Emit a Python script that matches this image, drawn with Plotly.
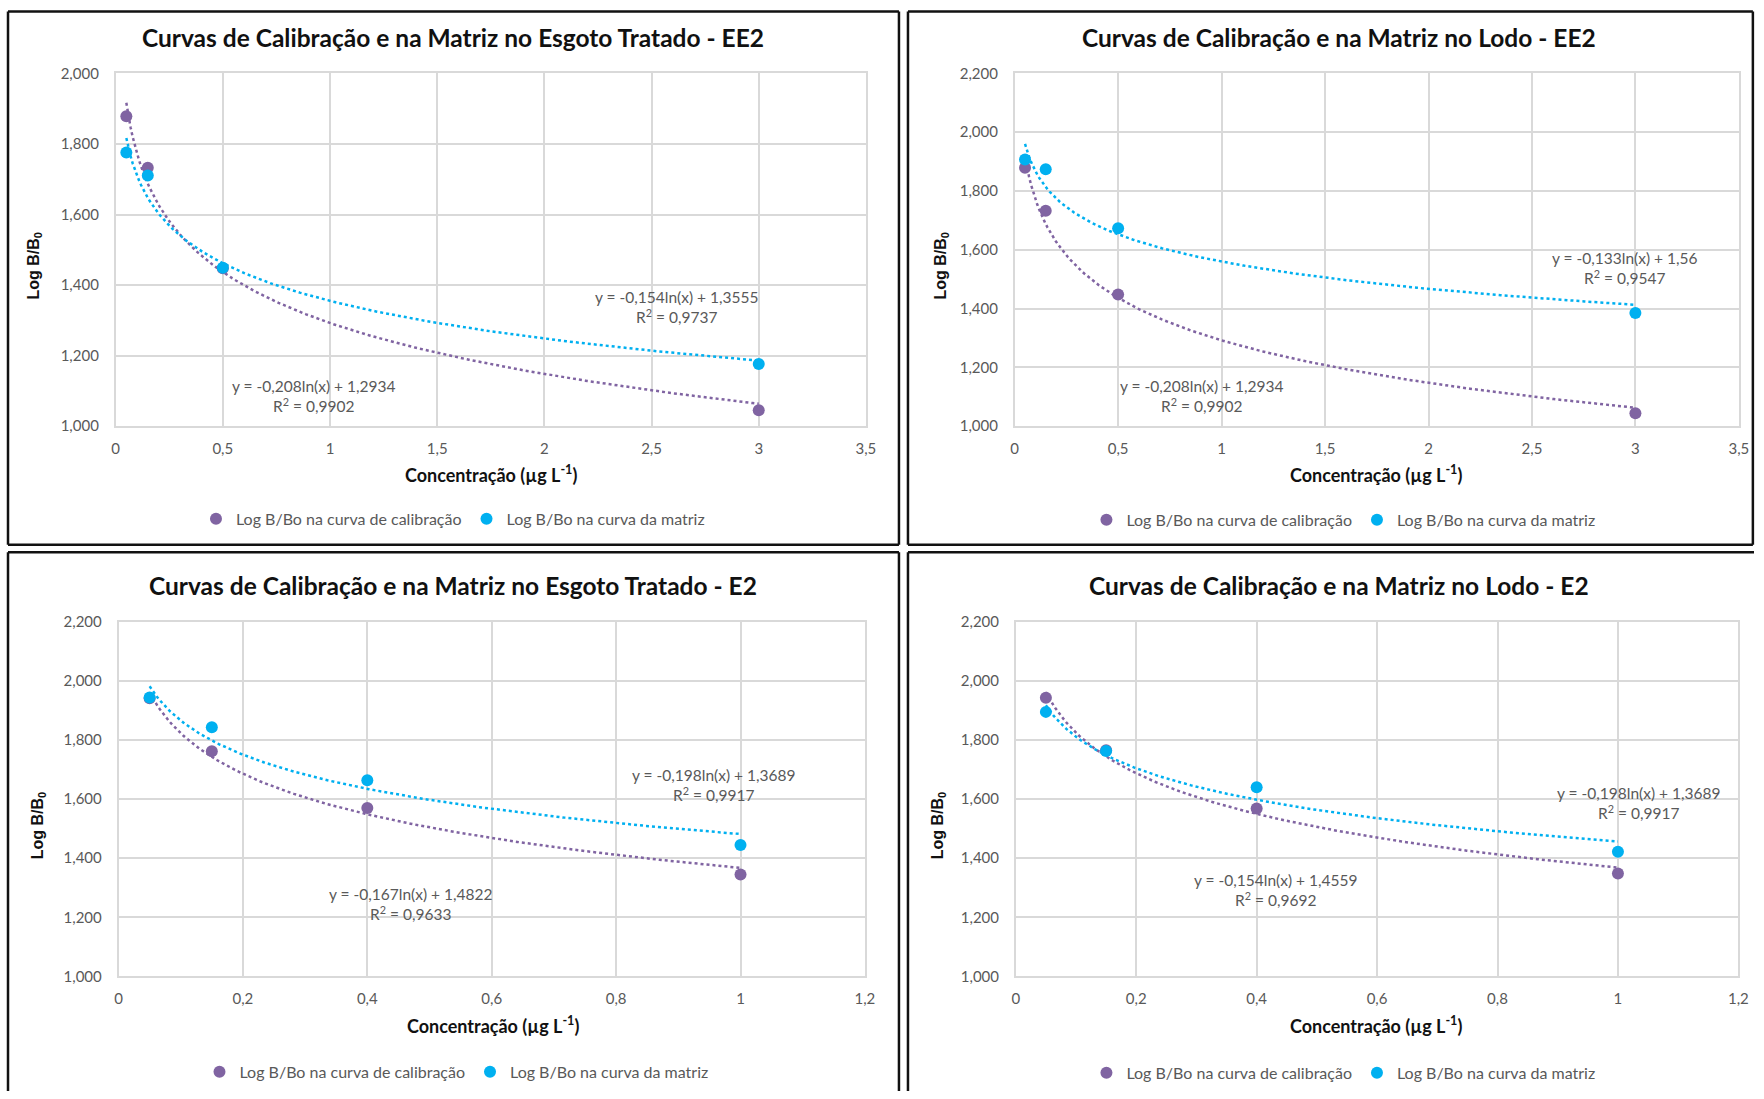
import numpy as np
import plotly.graph_objects as go

W, H = 1764, 1099

# ---------------- data ----------------
x_ee2 = [0.05, 0.15, 0.5, 3]
x_e2 = [0.05, 0.15, 0.4, 1]

ee2_esgoto_calib = [1.879, 1.733, 1.448, 1.045]
ee2_esgoto_matriz = [1.776, 1.711, 1.449, 1.176]
ee2_lodo_calib = [1.879, 1.733, 1.448, 1.044]
ee2_lodo_matriz = [1.907, 1.874, 1.673, 1.385]
e2_esgoto_calib = [1.941, 1.762, 1.570, 1.345]
e2_esgoto_matriz = [1.944, 1.843, 1.664, 1.445]
e2_lodo_calib = [1.943, 1.765, 1.568, 1.348]
e2_lodo_matriz = [1.895, 1.763, 1.640, 1.422]

titles = [
    "Curvas de Calibração e na Matriz no Esgoto Tratado - EE2",
    "Curvas de Calibração e na Matriz no Lodo - EE2",
    "Curvas de Calibração e na Matriz no Esgoto Tratado - E2",
    "Curvas de Calibração e na Matriz no Lodo - E2",
]
series_names = ["Log B/Bo na curva de calibração", "Log B/Bo na curva da matriz"]
eq_labels = [
    ["y = -0,208ln(x) + 1,2934<br>R<sup>2</sup> = 0,9902", "y = -0,154ln(x) + 1,3555<br>R<sup>2</sup> = 0,9737"],
    ["y = -0,208ln(x) + 1,2934<br>R<sup>2</sup> = 0,9902", "y = -0,133ln(x) + 1,56<br>R<sup>2</sup> = 0,9547"],
    ["y = -0,167ln(x) + 1,4822<br>R<sup>2</sup> = 0,9633", "y = -0,198ln(x) + 1,3689<br>R<sup>2</sup> = 0,9917"],
    ["y = -0,154ln(x) + 1,4559<br>R<sup>2</sup> = 0,9692", "y = -0,198ln(x) + 1,3689<br>R<sup>2</sup> = 0,9917"],
]
x_title = "Concentração (µg L<sup>-1</sup>)"
y_title = "Log B/B<sub>0</sub>"

panels = [
    dict(x=x_ee2, calib=ee2_esgoto_calib, matriz=ee2_esgoto_matriz, xr=[0, 3.5], xd=0.5, yr=[1.0, 2.0]),
    dict(x=x_ee2, calib=ee2_lodo_calib, matriz=ee2_lodo_matriz, xr=[0, 3.5], xd=0.5, yr=[1.0, 2.2]),
    dict(x=x_e2, calib=e2_esgoto_calib, matriz=e2_esgoto_matriz, xr=[0, 1.2], xd=0.2, yr=[1.0, 2.2]),
    dict(x=x_e2, calib=e2_lodo_calib, matriz=e2_lodo_matriz, xr=[0, 1.2], xd=0.2, yr=[1.0, 2.2]),
]

# ---------------- layout geometry (target pixels in the picture) ----------------
plot_px = [  # left, right, top, bottom
    (116.5, 866.0, 72.6, 426.0),
    (1014.6, 1738.0, 72.6, 426.0),
    (119.4, 865.0, 622.0, 977.5),
    (1015.7, 1737.5, 622.0, 977.5),
]
title_pos = [(453.5, 37), (1338.5, 37), (453.5, 586), (1338.5, 586)]
xtitle_pos = [(491, 474), (1376, 474), (493, 1026), (1376, 1026)]
ytitle_pos = [(35, 265), (941, 265), (39, 826), (938, 826)]
legend_pos = [(453.5, 519), (1343, 520), (457, 1073), (1343, 1074)]
eq_pos = [
    [(0.924, 1.085), (2.615, 1.337)],
    [(0.902, 1.102), (2.948, 1.538)],
    [(0.470, 1.246), (0.956, 1.646)],
    [(0.431, 1.293), (1.034, 1.586)],
]

PURPLE = "#8064A2"
BLUE = "#00B0F0"
GRID = "#D9D9D9"
TXT = "#595959"
FONT = "Lato, 'Open Sans', sans-serif"

# the page photograph places the figure with a small offset / scale;
# compensate so that target picture pixels land where intended
OX, SX = 5.0, 0.991
OY, SY = 9.0, 0.9857


def px(xp):
    return min(max((xp - OX) / SX, 0.0), W) / W


def py(yp):
    return 1 - min(max((yp - OY) / SY, 0.0), H) / H


fig = go.Figure()
annotations = []
shapes = []

for i, p in enumerate(panels):
    n = i + 1
    xa = "x" if n == 1 else f"x{n}"
    ya = "y" if n == 1 else f"y{n}"
    leg = "legend" if n == 1 else f"legend{n}"
    xs = np.array(p["x"], dtype=float)
    for ys, col, name in [(p["calib"], PURPLE, series_names[0]), (p["matriz"], BLUE, series_names[1])]:
        coef = np.polyfit(np.log(xs), np.array(ys), 1)
        xx = np.linspace(xs.min(), xs.max(), 300)
        fig.add_trace(go.Scatter(
            x=xx, y=np.polyval(coef, np.log(xx)), mode="lines",
            line=dict(color=col, width=2.5, dash="dot"),
            xaxis=xa, yaxis=ya, showlegend=False, hoverinfo="skip"))
    for ys, col, name in [(p["calib"], PURPLE, series_names[0]), (p["matriz"], BLUE, series_names[1])]:
        fig.add_trace(go.Scatter(
            x=p["x"], y=ys, mode="markers", name=name,
            marker=dict(color=col, size=12),
            xaxis=xa, yaxis=ya, legend=leg, showlegend=True))

    l, r, t, b = plot_px[i]
    axkw = dict(showgrid=True, gridcolor=GRID, gridwidth=1.5, zeroline=False,
                showline=True, linecolor=GRID, linewidth=1.5, mirror=True,
                tickfont=dict(family=FONT, size=15, color=TXT), ticks="")
    fig.update_layout(**{
        ("xaxis" if n == 1 else f"xaxis{n}"): dict(
            domain=[px(l), px(r)], range=p["xr"], dtick=p["xd"], tick0=0,
            anchor=ya, ticklabelstandoff=8, **axkw),
        ("yaxis" if n == 1 else f"yaxis{n}"): dict(
            domain=[py(b), py(t)], range=p["yr"], dtick=0.2, tick0=0,
            tickformat=".3f", anchor=xa, ticklabelstandoff=12, **axkw),
        leg: dict(
            x=px(legend_pos[i][0]), y=py(legend_pos[i][1]), xref="paper", yref="paper",
            xanchor="center", yanchor="middle", orientation="h",
            font=dict(family=FONT, size=16, color=TXT), itemwidth=30,
            bgcolor="rgba(0,0,0,0)", tracegroupgap=0),
    })

    annotations.append(dict(
        text=f"<b>{titles[i]}</b>", x=px(title_pos[i][0]), y=py(title_pos[i][1]),
        xref="paper", yref="paper", showarrow=False, xanchor="center", yanchor="middle",
        font=dict(family=FONT, size=24.5, color="#111111")))
    annotations.append(dict(
        text=f"<b>{x_title}</b>", x=px(xtitle_pos[i][0]), y=py(xtitle_pos[i][1]),
        xref="paper", yref="paper", showarrow=False, xanchor="center", yanchor="middle",
        font=dict(family=FONT, size=18, color="#111111")))
    annotations.append(dict(
        text=f"<b>{y_title}</b>", x=px(ytitle_pos[i][0]), y=py(ytitle_pos[i][1]),
        xref="paper", yref="paper", showarrow=False, xanchor="center", yanchor="middle",
        textangle=-90, font=dict(family="Liberation Sans, Arial, sans-serif", size=16, color="#111111")))
    for j in range(2):
        ex, ey = eq_pos[i][j]
        annotations.append(dict(
            text=eq_labels[i][j], x=ex, y=ey, xref=xa, yref=ya, showarrow=False,
            xanchor="center", yanchor="middle", align="center",
            font=dict(family=FONT, size=15.5, color=TXT)))

# panel frames
frame = dict(type="line", xref="paper", yref="paper", line=dict(color="#111111", width=2.5))
TOP = 10.5    # as high as the photograph allows
RIGHT = 1752  # as far right as the photograph allows
segs = [
    # top-left panel
    (9, TOP, 899, TOP), (9, TOP, 9, 545), (899, TOP, 899, 545), (9, 545, 899, 545),
    # top-right panel
    (908, TOP, RIGHT, TOP), (908, TOP, 908, 545), (RIGHT, TOP, RIGHT, 545), (908, 545, RIGHT, 545),
    # bottom-left panel
    (9, 552.5, 899, 552.5), (9, 552.5, 9, 1099), (899, 552.5, 899, 1099),
    # bottom-right panel
    (908, 552.5, 1764, 552.5), (908, 552.5, 908, 1099),
]
for x0, y0, x1, y1 in segs:
    shapes.append(dict(frame, x0=px(x0), y0=py(y0), x1=px(x1), y1=py(y1)))

fig.update_layout(
    width=W, height=H, margin=dict(l=0, r=0, t=0, b=0),
    paper_bgcolor="white", plot_bgcolor="white",
    separators=",.", annotations=annotations, shapes=shapes,
    font=dict(family=FONT, color=TXT),
)

fig.write_html("out.html")
